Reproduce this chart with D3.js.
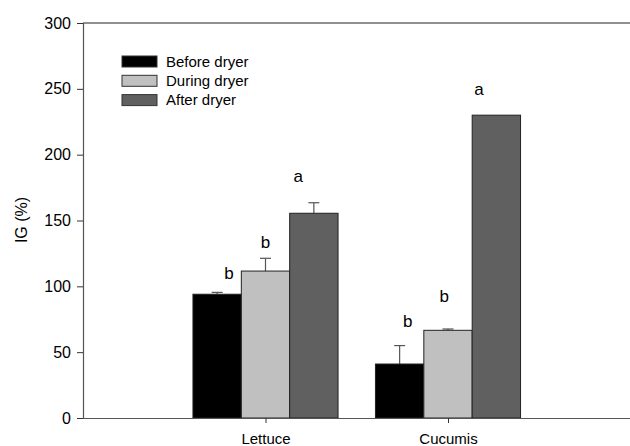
<!DOCTYPE html>
<html>
<head>
<meta charset="utf-8">
<script src="https://cdn.jsdelivr.net/npm/d3@7"></script>
<style>
  html, body { margin: 0; padding: 0; background: #fff; }
  svg { display: block; font-family: "Liberation Sans", Arial, sans-serif; }
</style>
</head>
<body>
<svg id="chart" width="630" height="446"></svg>
<script>
// ---- data ----
const categories = ["Lettuce", "Cucumis"];
const categoryPos = [1, 2];
const seriesNames = ["Before dryer", "During dryer", "After dryer"];
const seriesColors = ["#000000", "#c0c0c0", "#606060"];
const beforeVals = [94, 41];
const duringVals = [111.6, 66.6];
const afterVals = [155.5, 230];
const beforeErr = [1.4, 14];
const duringErr = [9.7, 1];
const afterErr = [8, 0];
const beforeLetters = ["b", "b"];
const duringLetters = ["b", "b"];
const afterLetters = ["a", "a"];
const beforeLetterY = [105.6, 69];
const duringLetterY = [129, 88];
const afterLetterY = [179, 245];
const beforeLetterX = [0.80, 1.78];
const duringLetterX = [1.00, 1.98];
const afterLetterX = [1.18, 2.17];
const yTicks = [0, 50, 100, 150, 200, 250, 300];
const yLabel = "IG (%)";

const series = [
  { name: seriesNames[0], color: seriesColors[0], vals: beforeVals, err: beforeErr, letters: beforeLetters, ly: beforeLetterY, lx: beforeLetterX },
  { name: seriesNames[1], color: seriesColors[1], vals: duringVals, err: duringErr, letters: duringLetters, ly: duringLetterY, lx: duringLetterX },
  { name: seriesNames[2], color: seriesColors[2], vals: afterVals, err: afterErr, letters: afterLetters, ly: afterLetterY, lx: afterLetterX }
];

// ---- layout ----
const mLeft = 83, mRight = 630, mTop = 23, mBottom = 418;
const svg = d3.select("#chart");
const x = d3.scaleLinear().domain([0, 3]).range([mLeft, mRight + 0.5]);
const y = d3.scaleLinear().domain([0, 300]).range([mBottom, mTop]);
const barW = (x(1) - x(0)) * 0.265;

// bars
series.forEach((s, si) => {
  const g = svg.append("g");
  categoryPos.forEach((cp, ci) => {
    const cx = x(cp) + (si - 1) * barW;
    if (s.err[ci] > 0) {
      const yt = y(s.vals[ci] + s.err[ci]);
      g.append("line").attr("x1", cx).attr("x2", cx)
        .attr("y1", y(s.vals[ci])).attr("y2", yt)
        .attr("stroke", "#555").attr("stroke-width", 1.2);
      g.append("line").attr("x1", cx - 5.5).attr("x2", cx + 5.5)
        .attr("y1", yt).attr("y2", yt)
        .attr("stroke", "#555").attr("stroke-width", 1.2);
    }
    g.append("rect")
      .attr("x", cx - barW / 2)
      .attr("y", y(s.vals[ci]))
      .attr("width", barW)
      .attr("height", y(0) - y(s.vals[ci]))
      .attr("fill", s.color)
      .attr("stroke", "#222")
      .attr("stroke-width", 1);
    g.append("text")
      .attr("x", x(s.lx[ci]))
      .attr("y", y(s.ly[ci]))
      .attr("text-anchor", "middle")
      .attr("font-size", 17)
      .attr("fill", "#000")
      .text(s.letters[ci]);
  });
});

// top frame line
svg.append("line").attr("x1", mLeft).attr("x2", mRight).attr("y1", y(300)).attr("y2", y(300))
  .attr("stroke", "#222").attr("stroke-width", 1.2);

// y axis
const yAxis = d3.axisLeft(y).tickValues(yTicks).tickSize(6).tickPadding(6);
const gy = svg.append("g").attr("transform", `translate(${mLeft},0)`).call(yAxis);
gy.select(".domain").attr("stroke", "#555").attr("stroke-width", 1.2);
gy.selectAll(".tick line").attr("stroke", "#333");
gy.selectAll(".tick text").attr("font-size", 16).attr("fill", "#000")
  .attr("font-family", "Liberation Sans, Arial, sans-serif");

// x axis
const xAxis = d3.axisBottom(x).tickValues(categoryPos)
  .tickFormat((d, i) => categories[i]).tickSize(5).tickSizeOuter(0).tickPadding(10);
const gx = svg.append("g").attr("transform", `translate(0,${mBottom})`).call(xAxis);
gx.select(".domain").attr("stroke", "#555").attr("stroke-width", 1.2);
gx.selectAll(".tick line").attr("stroke", "#333");
gx.selectAll(".tick text").attr("font-size", 15).attr("fill", "#000")
  .attr("font-family", "Liberation Sans, Arial, sans-serif");

// y label
svg.append("text")
  .attr("transform", `translate(27,220) rotate(-90)`)
  .attr("text-anchor", "middle")
  .attr("font-size", 16)
  .attr("fill", "#000")
  .text(yLabel);

// legend
const lg = svg.append("g");
series.forEach((s, i) => {
  const ry = 56 + i * 19.3;
  lg.append("rect").attr("x", 122).attr("y", ry).attr("width", 35).attr("height", 11)
    .attr("fill", s.color).attr("stroke", "#333").attr("stroke-width", 1);
  lg.append("text").attr("x", 166).attr("y", ry + 10.5)
    .attr("font-size", 15).attr("fill", "#000").text(s.name);
});
</script>
</body>
</html>
